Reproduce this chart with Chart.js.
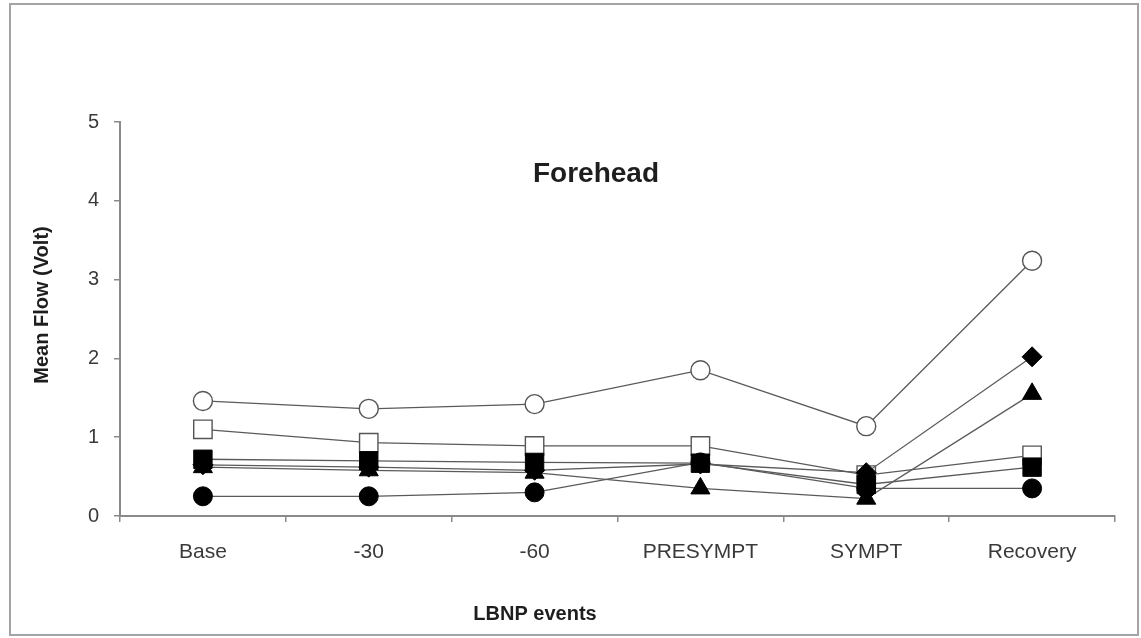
<!DOCTYPE html>
<html>
<head>
<meta charset="utf-8">
<script src="https://cdn.jsdelivr.net/npm/chart.js@4"></script>
<style>
  body { margin: 0; background: #fff; }
  #frame { position: absolute; left: 9px; top: 3px; width: 1126px; height: 629px; border: 2px solid #a4a4a4; }
  #chart { position: absolute; left: 0; top: 0; }
</style>
</head>
<body>
<div id="frame"></div>
<canvas id="chart" width="1141" height="638"></canvas>
<script>
// categories on the x axis
var events = ['Base', '-30', '-60', 'PRESYMPT', 'SYMPT', 'Recovery'];
var yTicks = [0, 1, 2, 3, 4, 5];

// one array per subject (marker type)
var openCircle   = [1.46, 1.36, 1.42, 1.85, 1.14, 3.24];
var openSquare   = [1.10, 0.93, 0.89, 0.89, 0.52, 0.77];
var filledSquare = [0.72, 0.70, 0.68, 0.67, 0.40, 0.62];
var filledDiamond = [0.65, 0.62, 0.58, 0.66, 0.55, 2.02];
var filledTriangle = [0.62, 0.58, 0.55, 0.35, 0.22, 1.55];
var filledCircle = [0.25, 0.25, 0.30, 0.68, 0.35, 0.35];

var font = "'Liberation Sans', Arial, sans-serif";

function series(data, style, radius, filled) {
  return {
    data: data,
    borderColor: '#5a5a5a',
    borderWidth: 1.3,
    tension: 0,
    pointStyle: style,
    pointRadius: radius,
    pointHoverRadius: radius,
    pointBackgroundColor: filled ? '#000' : '#fff',
    pointBorderColor: filled ? '#000' : '#555',
    pointBorderWidth: filled ? 1 : 1.4
  };
}

// titles drawn by hand so they sit where the original puts them
var labelsPlugin = {
  id: 'labels',
  afterDraw: function(chart) {
    var ctx = chart.ctx;
    ctx.save();
    ctx.fillStyle = '#1e1e1e';
    ctx.textAlign = 'center';
    ctx.textBaseline = 'middle';
    ctx.font = 'bold 28px ' + font;
    ctx.fillText('Forehead', 596, 174);
    ctx.font = 'bold 20px ' + font;
    ctx.fillText('LBNP events', 535, 614);
    ctx.translate(42, 305);
    ctx.rotate(-Math.PI / 2);
    ctx.fillText('Mean Flow (Volt)', 0, 0);
    ctx.restore();
  }
};

// first dataset ends up on top, so filled markers go first
new Chart(document.getElementById('chart'), {
  type: 'line',
  data: {
    labels: events,
    datasets: [
      series(filledSquare, 'rect', 13, true),
      series(filledDiamond, 'rectRot', 10, true),
      series(filledCircle, 'circle', 9.5, true),
      series(filledTriangle, 'triangle', 11, true),
      series(openSquare, 'rect', 13, false),
      series(openCircle, 'circle', 9.5, false)
    ]
  },
  options: {
    responsive: false,
    animation: false,
    devicePixelRatio: 1,
    layout: { padding: { top: 122, right: 26, left: 0, bottom: 0 } },
    plugins: { legend: { display: false }, tooltip: { enabled: false } },
    scales: {
      x: {
        offset: true,
        grid: { offset: true, drawOnChartArea: false, drawTicks: true, tickLength: 6, color: '#8a8a8a', lineWidth: 1.5 },
        border: { color: '#8a8a8a', width: 2 },
        ticks: { color: '#3a3a3a', font: { family: font, size: 21 }, padding: 18 },
        afterFit: function(scale) { scale.height = 122; }
      },
      y: {
        min: 0,
        max: 5,
        afterBuildTicks: function(scale) { scale.ticks = yTicks.map(function(v) { return { value: v }; }); },
        grid: { drawOnChartArea: false, drawTicks: true, tickLength: 6, color: '#8a8a8a', lineWidth: 1.5 },
        border: { color: '#8a8a8a', width: 2 },
        ticks: { color: '#3a3a3a', font: { family: font, size: 20 }, padding: 15 },
        afterFit: function(scale) { scale.width = 120; }
      }
    }
  },
  plugins: [labelsPlugin]
});
</script>
</body>
</html>
